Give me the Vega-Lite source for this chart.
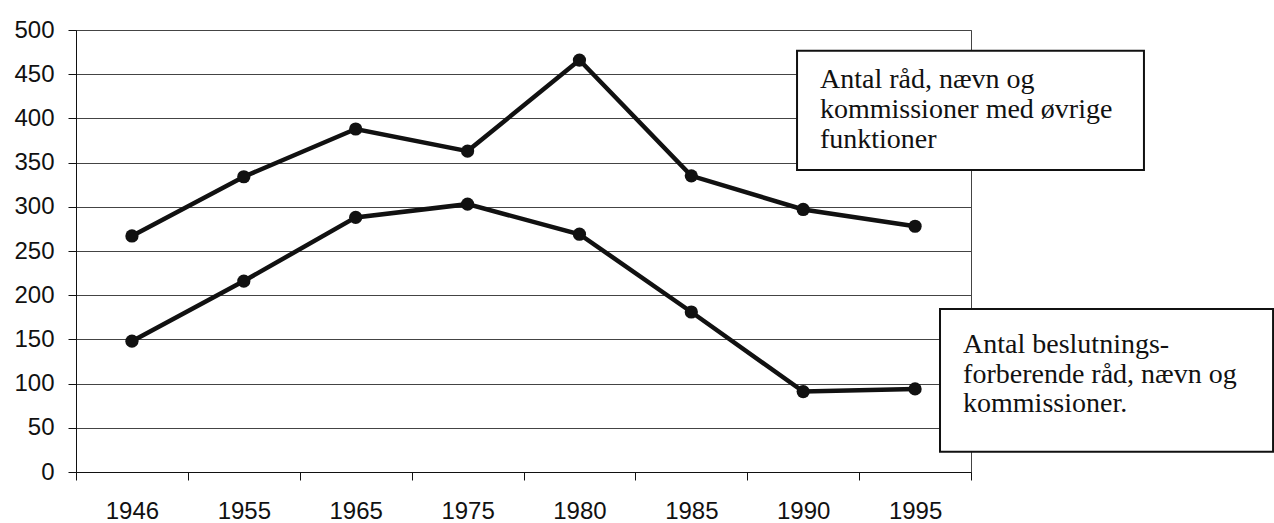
{
  "$schema": "https://vega.github.io/schema/vega-lite/v6.json",
  "width": 895,
  "height": 442,
  "autosize": {"type": "none"},
  "padding": {"left": 76, "top": 30, "right": 303, "bottom": 51},
  "background": "white",
  "config": {"view": {"stroke": "#444", "strokeWidth": 1}},
  "datasets": {
    "series": [
      {"series": "øvrige", "year": "1946", "value": 267},
      {"series": "øvrige", "year": "1955", "value": 334},
      {"series": "øvrige", "year": "1965", "value": 388},
      {"series": "øvrige", "year": "1975", "value": 363},
      {"series": "øvrige", "year": "1980", "value": 466},
      {"series": "øvrige", "year": "1985", "value": 335},
      {"series": "øvrige", "year": "1990", "value": 297},
      {"series": "øvrige", "year": "1995", "value": 278},
      {"series": "beslutningsforberende", "year": "1946", "value": 148},
      {"series": "beslutningsforberende", "year": "1955", "value": 216},
      {"series": "beslutningsforberende", "year": "1965", "value": 288},
      {"series": "beslutningsforberende", "year": "1975", "value": 303},
      {"series": "beslutningsforberende", "year": "1980", "value": 269},
      {"series": "beslutningsforberende", "year": "1985", "value": 181},
      {"series": "beslutningsforberende", "year": "1990", "value": 91},
      {"series": "beslutningsforberende", "year": "1995", "value": 94}
    ]
  },
  "layer": [
    {
      "data": {"name": "series"},
      "encoding": {
        "x": {
          "field": "year",
          "type": "ordinal",
          "sort": null,
          "scale": {"type": "band", "paddingInner": 0, "paddingOuter": 0},
          "axis": {
            "title": null,
            "labelAngle": 0,
            "tickBand": "extent",
            "grid": false,
            "domainColor": "#111",
            "tickColor": "#111",
            "tickSize": 8,
            "labelFont": "Liberation Sans",
            "labelFontSize": 24,
            "labelColor": "#111",
            "labelPadding": 19
          }
        },
        "y": {
          "field": "value",
          "type": "quantitative",
          "title": null,
          "scale": {"domain": [0, 500], "nice": false, "zero": true},
          "axis": {
            "title": null,
            "values": [0, 50, 100, 150, 200, 250, 300, 350, 400, 450, 500],
            "grid": true,
            "gridColor": "#444",
            "gridWidth": 1,
            "domainColor": "#111",
            "tickColor": "#111",
            "tickSize": 8,
            "labelFont": "Liberation Sans",
            "labelFontSize": 24,
            "labelColor": "#111",
            "labelPadding": 14
          }
        },
        "detail": {"field": "series"}
      },
      "layer": [
        {"mark": {"type": "line", "color": "#111", "strokeWidth": 4.5}},
        {"mark": {"type": "point", "filled": true, "color": "#111", "size": 175, "opacity": 1}}
      ]
    },
    {
      "data": {"values": [{}]},
      "layer": [
        {
          "mark": {"type": "rect", "fill": "white", "stroke": "#111", "strokeWidth": 2},
          "encoding": {
            "x": {"datum": 6.445, "type": "quantitative", "scale": {"domain": [0, 8]}, "axis": null},
            "x2": {"datum": 9.546},
            "y": {"datum": 476.6, "type": "quantitative", "title": null},
            "y2": {"datum": 341.6}
          }
        },
        {
          "mark": {"type": "text", "text": ["Antal råd, nævn og", "kommissioner med øvrige", "funktioner"], "font": "Liberation Serif", "fontSize": 28, "lineHeight": 30, "align": "left", "baseline": "alphabetic", "color": "#111"},
          "encoding": {
            "x": {"datum": 6.65, "type": "quantitative", "scale": {"domain": [0, 8]}, "axis": null},
            "y": {"datum": 434.4, "type": "quantitative", "title": null}
          }
        },
        {
          "mark": {"type": "rect", "fill": "white", "stroke": "#111", "strokeWidth": 2},
          "encoding": {
            "x": {"datum": 7.723, "type": "quantitative", "scale": {"domain": [0, 8]}, "axis": null},
            "x2": {"datum": 10.7},
            "y": {"datum": 184.4, "type": "quantitative", "title": null},
            "y2": {"datum": 23.0}
          }
        },
        {
          "mark": {"type": "text", "text": ["Antal beslutnings-", "forberende råd, nævn og", "kommissioner."], "font": "Liberation Serif", "fontSize": 28, "lineHeight": 29.5, "align": "left", "baseline": "alphabetic", "color": "#111"},
          "encoding": {
            "x": {"datum": 7.929, "type": "quantitative", "scale": {"domain": [0, 8]}, "axis": null},
            "y": {"datum": 134.6, "type": "quantitative", "title": null}
          }
        }
      ]
    }
  ],
  "resolve": {"scale": {"x": "independent"}, "axis": {"x": "independent"}}
}
